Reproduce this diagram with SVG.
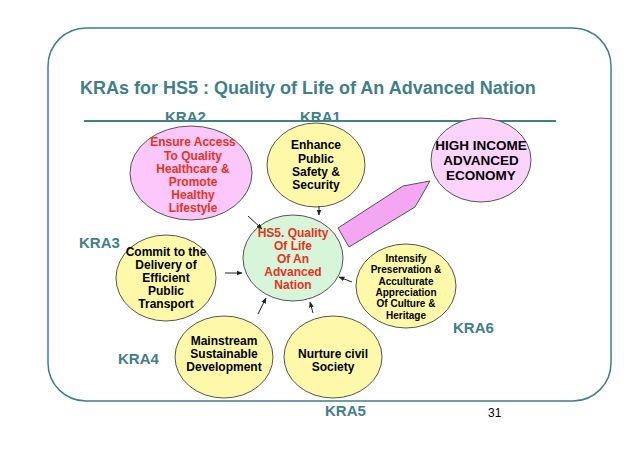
<svg xmlns="http://www.w3.org/2000/svg" width="638" height="451" viewBox="0 0 638 451">
<style>
.t{font-family:"Liberation Sans",Arial,sans-serif;font-weight:bold;text-anchor:middle}
.k{font-family:"Liberation Sans",Arial,sans-serif;font-weight:bold;fill:#3f8088;font-size:15px}
.b{font-size:12px;fill:#000}
.r{font-size:12px;fill:#e8321e}
.y{fill:#fdf9a8;stroke:#555;stroke-width:1}
.c line{stroke:#222;stroke-width:1;marker-end:url(#a)}
</style>
<defs><marker id="a" viewBox="0 0 10 10" refX="9" refY="5" markerWidth="6" markerHeight="6" orient="auto"><path d="M0,1 L10,5 L0,9Z" fill="#222"/></marker></defs>
<rect x="48" y="28" width="563" height="373" rx="38" fill="#fff" stroke="#3f7f86" stroke-width="1.5"/>
<text x="80" y="94" class="k" style="font-size:18px">KRAs for HS5 : Quality of Life of An Advanced Nation</text>
<line x1="84" y1="121" x2="556" y2="121" stroke="#3f7f86" stroke-width="2"/>
<text x="165" y="122" class="k">KRA2</text>
<text x="300" y="122" class="k">KRA1</text>
<text x="79" y="248" class="k">KRA3</text>
<text x="453" y="333" class="k">KRA6</text>
<text x="118" y="364" class="k">KRA4</text>
<text x="325" y="416" class="k">KRA5</text>
<text x="488" y="417" style="font-family:'Liberation Sans',Arial,sans-serif;font-size:12px">31</text>
<g id="kra2"><ellipse cx="191" cy="173" rx="61" ry="47" fill="#fcc8fb" stroke="#555"/>
<text class="t r"><tspan x="193" y="146">Ensure Access</tspan><tspan x="193" y="160">To Quality</tspan><tspan x="193" y="173">Healthcare &amp;</tspan><tspan x="193" y="186">Promote</tspan><tspan x="193" y="199">Healthy</tspan><tspan x="193" y="212">Lifestyle</tspan></text></g>
<g id="kra1"><ellipse cx="316" cy="165" rx="49" ry="42" class="y"/>
<text class="t b"><tspan x="316" y="149">Enhance</tspan><tspan x="316" y="163">Public</tspan><tspan x="316" y="176">Safety &amp;</tspan><tspan x="316" y="189">Security</tspan></text></g>
<g id="high"><ellipse cx="481" cy="160" rx="50" ry="42" fill="#fcd4fb" stroke="#555"/>
<text class="t" style="font-size:13.5px"><tspan x="481" y="150">HIGH INCOME</tspan><tspan x="481" y="165">ADVANCED</tspan><tspan x="481" y="180">ECONOMY</tspan></text></g>
<g id="hs5"><ellipse cx="293" cy="258" rx="50" ry="43" fill="#d7f6d9" stroke="#555"/>
<text class="t r"><tspan x="293" y="237">HS5. Quality</tspan><tspan x="293" y="250">Of Life</tspan><tspan x="293" y="263">Of An</tspan><tspan x="293" y="276">Advanced</tspan><tspan x="293" y="289">Nation</tspan></text></g>
<g id="kra6"><ellipse cx="406" cy="286" rx="50" ry="42" class="y"/>
<text class="t b" style="font-size:10px"><tspan x="406" y="262">Intensify</tspan><tspan x="406" y="273">Preservation &amp;</tspan><tspan x="406" y="285">Acculturate</tspan><tspan x="406" y="296">Appreciation</tspan><tspan x="406" y="307">Of Culture &amp;</tspan><tspan x="406" y="319">Heritage</tspan></text></g>
<g id="kra3"><ellipse cx="166" cy="278" rx="50" ry="43" class="y"/>
<text class="t b"><tspan x="166" y="256">Commit to the</tspan><tspan x="166" y="269">Delivery of</tspan><tspan x="166" y="282">Efficient</tspan><tspan x="166" y="295">Public</tspan><tspan x="166" y="308">Transport</tspan></text></g>
<g id="kra4"><ellipse cx="224" cy="357" rx="49" ry="41" class="y"/>
<text class="t b"><tspan x="224" y="345">Mainstream</tspan><tspan x="224" y="358">Sustainable</tspan><tspan x="224" y="371">Development</tspan></text></g>
<g id="kra5"><ellipse cx="333" cy="357" rx="49" ry="41" class="y"/>
<text class="t b"><tspan x="333" y="358">Nurture civil</tspan><tspan x="333" y="371">Society</tspan></text></g>
<g id="bigarrow"><polygon points="338,228 403,186 430,181 415,207 349,247" fill="#f5a6f3" stroke="#555"/></g>
<g class="c">
<line x1="248" y1="216" x2="262" y2="229"/>
<line x1="319" y1="206" x2="319" y2="215"/>
<line x1="225" y1="273" x2="242" y2="273"/>
<line x1="352" y1="282" x2="339" y2="277"/>
<line x1="313" y1="313" x2="310" y2="302"/>
<line x1="258" y1="314" x2="266" y2="298"/>
</g>
</svg>
